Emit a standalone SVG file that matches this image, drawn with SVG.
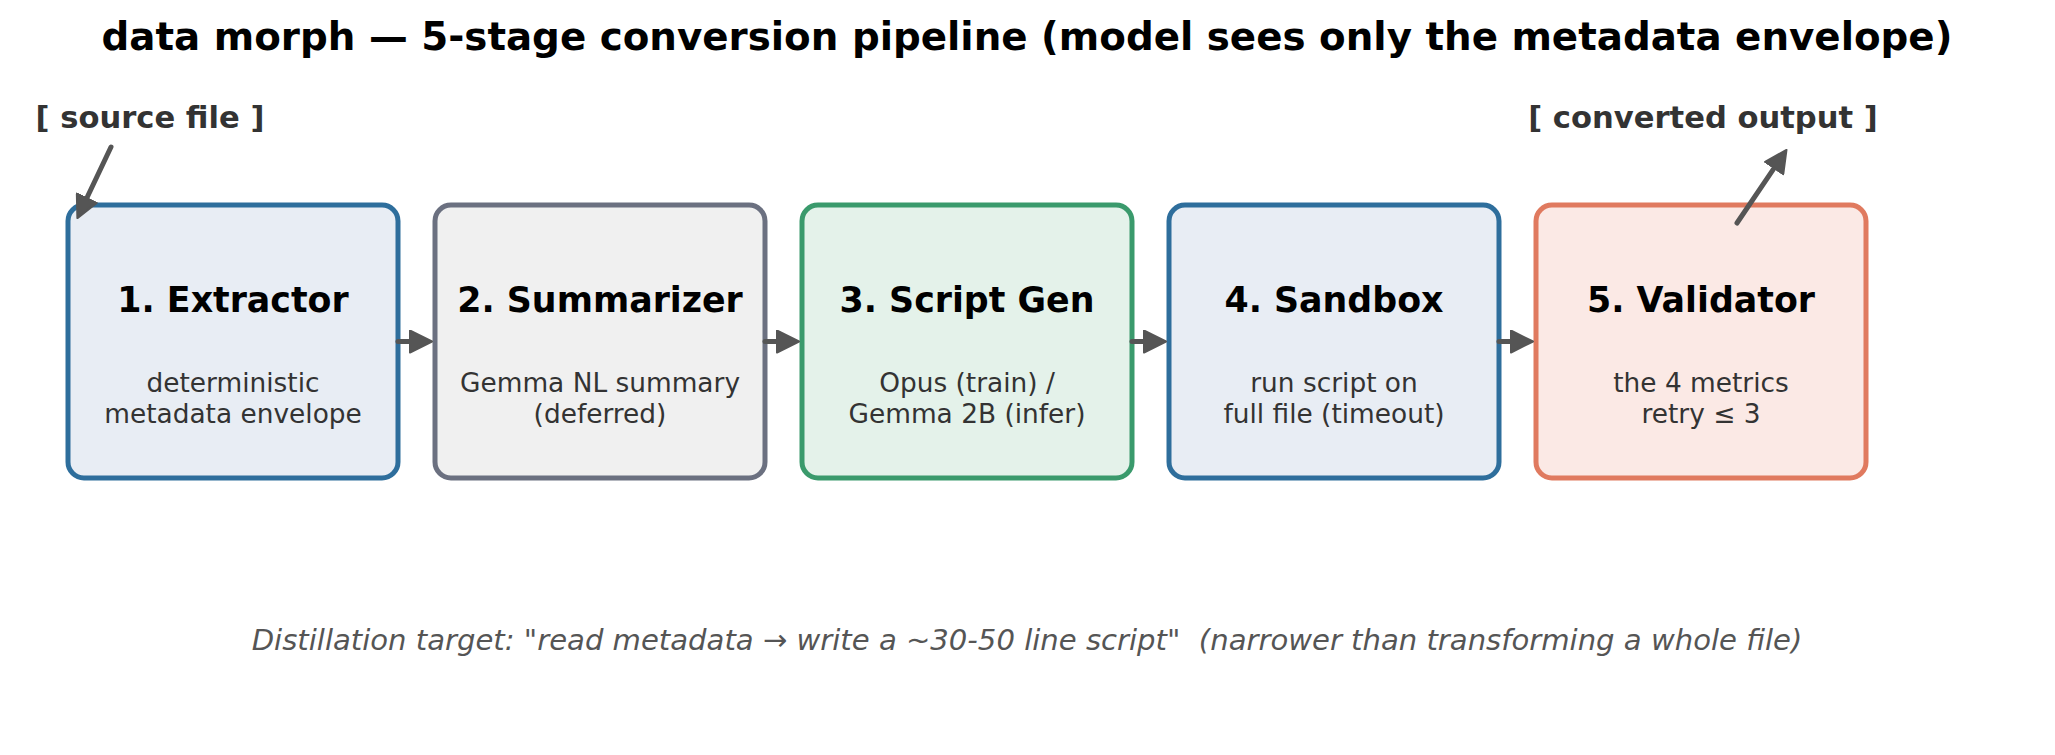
<svg xmlns="http://www.w3.org/2000/svg" width="2055" height="755" viewBox="0 0 2055 755">
<defs>
<style>
text { font-family: "DejaVu Sans", "Liberation Sans", sans-serif; text-anchor: middle; }
.title { font-size: 38.8px; font-weight: bold; fill: #000; }
.lbl { font-size: 30.6px; font-weight: bold; fill: #333; }
.nt { font-size: 34.8px; font-weight: bold; fill: #000; }
.ns { font-size: 26.4px; fill: #333; }
.foot { font-size: 29.1px; font-style: italic; fill: #555; white-space: pre; }
.box { stroke-width: 5; }
.blue { fill: #e8edf4; stroke: #2e6e9c; }
.gray { fill: #f0f0f0; stroke: #6b7080; }
.green { fill: #e4f2ea; stroke: #3a9a6c; }
.red { fill: #fbe9e5; stroke: #e07a5f; }
.conn { stroke: #555; stroke-width: 5; fill: none; stroke-linecap: round; }
</style>
<marker id="ah" viewBox="0 0 24 24" refX="0" refY="12" markerWidth="24" markerHeight="24" markerUnits="userSpaceOnUse" orient="auto">
<path d="M1,1 L23,12 L1,23 Z" fill="#555" stroke="#555" stroke-width="2" stroke-linejoin="round"/>
</marker>
</defs>
<rect width="2055" height="755" fill="#fff"/>
<text class="title" x="1027" y="50">data morph — 5-stage conversion pipeline (model sees only the metadata envelope)</text>

<g id="source-label"><text class="lbl" x="150" y="128">[ source file ]</text></g>
<g id="output-label"><text class="lbl" x="1703" y="128">[ converted output ]</text></g>

<g id="n1">
<rect class="box blue" x="68" y="205" width="330" height="273" rx="16"/>
<text class="nt" x="233" y="312">1. Extractor</text>
<text class="ns" x="233" y="392">deterministic</text>
<text class="ns" x="233" y="422.5">metadata envelope</text>
</g>
<g id="n2">
<rect class="box gray" x="435" y="205" width="330" height="273" rx="16"/>
<text class="nt" x="600" y="312">2. Summarizer</text>
<text class="ns" x="600" y="392">Gemma NL summary</text>
<text class="ns" x="600" y="422.5">(deferred)</text>
</g>
<g id="n3">
<rect class="box green" x="802" y="205" width="330" height="273" rx="16"/>
<text class="nt" x="967" y="312">3. Script Gen</text>
<text class="ns" x="967" y="392">Opus (train) /</text>
<text class="ns" x="967" y="422.5">Gemma 2B (infer)</text>
</g>
<g id="n4">
<rect class="box blue" x="1169" y="205" width="330" height="273" rx="16"/>
<text class="nt" x="1334" y="312">4. Sandbox</text>
<text class="ns" x="1334" y="392">run script on</text>
<text class="ns" x="1334" y="422.5">full file (timeout)</text>
</g>
<g id="n5">
<rect class="box red" x="1536" y="205" width="330" height="273" rx="16"/>
<text class="nt" x="1701" y="312">5. Validator</text>
<text class="ns" x="1701" y="392">the 4 metrics</text>
<text class="ns" x="1701" y="422.5">retry ≤ 3</text>
</g>

<g id="connectors">
<path class="conn" d="M398,341.5 L409,341.5" marker-end="url(#ah)"/>
<path class="conn" d="M765,341.5 L776,341.5" marker-end="url(#ah)"/>
<path class="conn" d="M1132,341.5 L1143,341.5" marker-end="url(#ah)"/>
<path class="conn" d="M1499,341.5 L1510,341.5" marker-end="url(#ah)"/>
<path class="conn" d="M111,147 L87.2,197.3" marker-end="url(#ah)"/>
<path class="conn" d="M1737,223 L1773.6,168.9" marker-end="url(#ah)"/>
</g>

<text class="foot" x="1027" y="650">Distillation target: "read metadata → write a ~30-50 line script"  (narrower than transforming a whole file)</text>
</svg>
